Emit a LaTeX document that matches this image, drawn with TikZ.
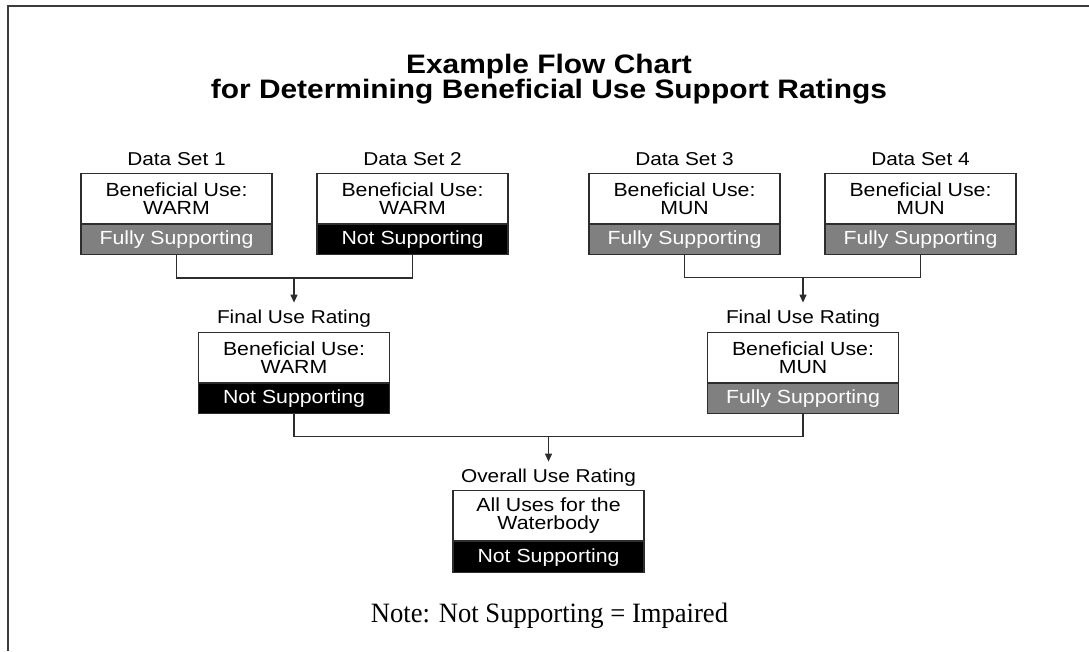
\documentclass[tikz,border=0pt]{standalone}
\usepackage{fontspec}
\setmainfont{Liberation Serif}
\newfontfamily\chartfont[FakeStretch=1.12]{Liberation Sans}
\newfontfamily\notefont[FakeStretch=0.95]{Liberation Serif}
\usetikzlibrary{arrows.meta}
\definecolor{midgray}{RGB}{128,128,128}
\definecolor{linegray}{RGB}{45,45,45}
\definecolor{framegray}{RGB}{60,60,60}
\begin{document}
\begin{tikzpicture}[x=1pt,y=-1pt,
  upper/.style={draw=linegray, line width=1.2pt, fill=white, minimum width=191pt,
    minimum height=50pt, inner sep=0pt, align=center, anchor=north,
    font=\chartfont\fontsize{19}{18.5}\selectfont},
  band/.style={draw=linegray, line width=1.2pt, minimum width=191pt,
    minimum height=30pt, inner sep=0pt, anchor=north, text=white,
    font=\chartfont\fontsize{19}{18.5}\selectfont},
  fully/.style={band, fill=midgray},
  notsup/.style={band, fill=black},
  lab/.style={anchor=base, inner sep=0pt, text height=13.5pt, text depth=4pt,
    font=\chartfont\fontsize{18.6}{20}\selectfont},
  titletext/.style={anchor=base, inner sep=0pt,
    font=\chartfont\bfseries\fontsize{26.7}{25}\selectfont},
  conn/.style={draw=linegray, line width=1.2pt},
  arr/.style={conn, -{Triangle[length=8pt,width=7pt]}}
]
\useasboundingbox (0,0) rectangle (1089,651);
\fill[white] (0,0) rectangle (1089,651);
% frame (cropped at right and bottom)
\draw[draw=framegray, line width=2pt] (7.5,651) -- (7.5,6) -- (1089,6);

% title
\node[titletext] (title1) at (549,73.5) {Example Flow Chart};
\node[titletext] (title2) at (549,98.5) {for Determining Beneficial Use Support Ratings};

% data set labels
\node[lab] (d1lab) at (176.5,165.7) {Data Set 1};
\node[lab] (d2lab) at (412.5,165.7) {Data Set 2};
\node[lab] (d3lab) at (684.5,165.7) {Data Set 3};
\node[lab] (d4lab) at (920.5,165.7) {Data Set 4};

% data set boxes
\node[upper] (b1u) at (176.5,173) {Beneficial Use:\\WARM};
\node[fully] (b1s) at (b1u.south) {Fully Supporting};
\node[upper] (b2u) at (412.5,173) {Beneficial Use:\\WARM};
\node[notsup] (b2s) at (b2u.south) {Not Supporting};
\node[upper] (b3u) at (684.5,173) {Beneficial Use:\\MUN};
\node[fully] (b3s) at (b3u.south) {Fully Supporting};
\node[upper] (b4u) at (920.5,173) {Beneficial Use:\\MUN};
\node[fully] (b4s) at (b4u.south) {Fully Supporting};

% final use ratings
\node[lab] (f1lab) at (294,323.3) {Final Use Rating};
\node[lab] (f2lab) at (803,323.3) {Final Use Rating};
\node[upper] (f1u) at (294,332) {Beneficial Use:\\WARM};
\node[notsup] (f1s) at (f1u.south) {Not Supporting};
\node[upper] (f2u) at (803,332) {Beneficial Use:\\MUN};
\node[fully] (f2s) at (f2u.south) {Fully Supporting};

% overall
\node[lab] (olab) at (548.5,482.3) {Overall Use Rating};
\node[upper] (ou) at (548.5,490) {All Uses for the\\Waterbody};
\node[notsup, minimum height=31pt] (os) at (ou.south) {Not Supporting};

% note
\node[anchor=base, inner sep=0pt, font=\notefont\fontsize{28}{30}\selectfont] (note)
  at (549.5,622.3) {Note: Not Supporting = Impaired};

% connectors
\coordinate (j1) at (294,278);
\coordinate (j2) at (803,277.5);
\coordinate (j3) at (548.5,436.5);
\draw[conn] (b1s.south) |- (j1) -| (b2s.south);
\draw[arr] (j1) -- ([yshift=7pt]f1lab.north);
\draw[conn] (b3s.south) |- (j2) -| (b4s.south);
\draw[arr] (j2) -- ([yshift=7pt]f2lab.north);
\draw[conn] (f1s.south) |- (j3) -| (f2s.south);
\draw[arr] (j3) -- ([yshift=7pt]olab.north);
\end{tikzpicture}
\end{document}
